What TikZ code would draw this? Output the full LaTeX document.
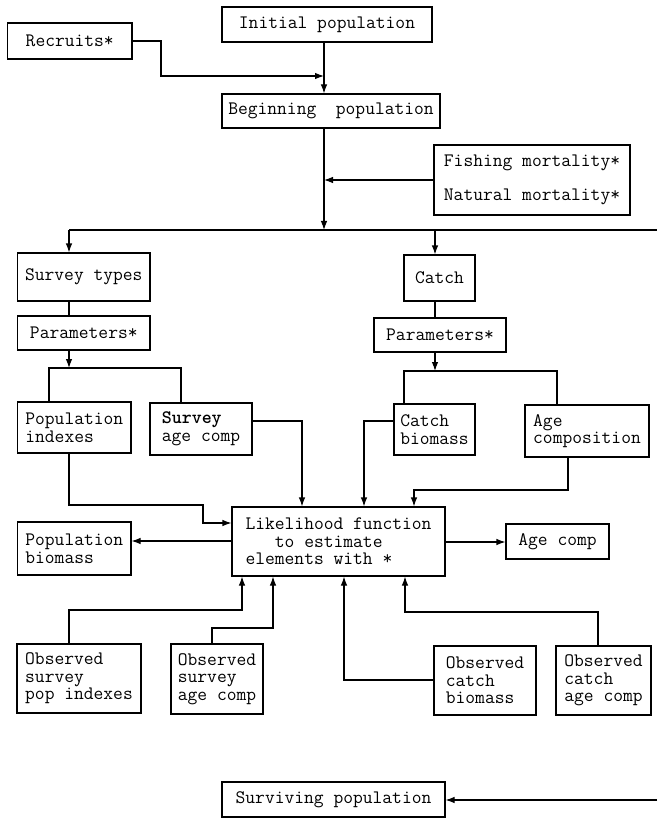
\documentclass[tikz,border=0pt]{standalone}
\usepackage{fontspec}
\usetikzlibrary{arrows.meta,calc}
\begin{document}
\begin{tikzpicture}[x=1pt,y=-1pt,
  box/.style={draw,line width=1.1pt,rectangle,inner sep=0pt,align=left,
    font=\ttfamily\fontsize{19}{17.5}\selectfont},
  con/.style={line width=1.1pt},
  arr/.style={con,-{Latex[length=9pt,width=6.5pt]}}]
\useasboundingbox (0,0) rectangle (657,818);
% boxes
\node[box,minimum width=210pt,minimum height=35pt] (init) at (327,24.5) {Initial population};
\node[box,minimum width=124.5pt,minimum height=36pt] (recruits) at (69.75,41) {Recruits*};
\node[box,minimum width=218pt,minimum height=34pt] (begin) at (331,111) {Beginning\ \ population};
\node[box,minimum width=196pt,minimum height=70pt] (mort) at (532,180) {Fishing mortality*\\[17pt]Natural mortality*};
\node[box,minimum width=132.4pt,minimum height=48pt] (survey) at (83.8,277) {Survey types};
\node[box,minimum width=71pt,minimum height=46pt] (catch) at (439.5,278) {Catch};
\node[box,minimum width=132.4pt,minimum height=34pt] (parL) at (83.8,333) {Parameters*};
\node[box,minimum width=132pt,minimum height=34pt] (parR) at (440,335) {Parameters*};
\node[box,minimum width=113.4pt,minimum height=51pt] (popidx) at (74.3,427.5) {Population\\indexes};
\node[box,minimum width=102pt,minimum height=52pt] (sage) at (201,429) {\textbf{Survey}\\age comp};
\node[box,minimum width=81pt,minimum height=51pt] (cbio) at (434.5,429.5) {Catch\\biomass};
\node[box,minimum width=124pt,minimum height=52pt] (agecomp) at (587,431) {Age\\composition};
\node[box,minimum width=213pt,minimum height=69pt] (like) at (338.5,541.5) {Likelihood function\\\phantom{Lik}to estimate\\elements with *};
\node[box,minimum width=113.4pt,minimum height=53pt] (popbio) at (74.3,548.5) {Population\\biomass};
\node[box,minimum width=103pt,minimum height=35pt] (agec) at (557.5,541.5) {Age comp};
\node[box,minimum width=124pt,minimum height=69pt] (obs1) at (79,678.5) {Observed\\survey\\pop indexes};
\node[box,minimum width=92pt,minimum height=70pt] (obs2) at (217,679) {Observed\\survey\\age comp};
\node[box,minimum width=102pt,minimum height=69pt] (obs3) at (485,680.5) {Observed\\catch\\biomass};
\node[box,minimum width=95pt,minimum height=69pt] (obs4) at (603.5,680.5) {Observed\\catch\\age comp};
\node[box,minimum width=223pt,minimum height=35pt] (surv) at (333.5,799.5) {Surviving population};
% helper coordinates
\coordinate (vx) at (324,0);
\coordinate (r2) at (161,76);
\coordinate (busL) at (69,230);
\coordinate (busR) at (657,230);
\coordinate (cx) at (435,0);
\coordinate (brL) at (69,368);
\coordinate (brL1) at (49,368);
\coordinate (brL2) at (181,368);
\coordinate (brR) at (435,371);
\coordinate (brR1) at (404,371);
\coordinate (brR2) at (557,371);
\coordinate (p1) at (69,505);
\coordinate (p2) at (203,523);
\coordinate (s1) at (302,421);
\coordinate (c1) at (364,421);
\coordinate (a1) at (568,490);
\coordinate (a2) at (414,490);
\coordinate (lb) at (0,541);
\coordinate (la) at (0,542);
\coordinate (o1a) at (69,610);
\coordinate (o1b) at (242,610);
\coordinate (o2a) at (212,628);
\coordinate (o2b) at (273,628);
\coordinate (o3) at (344,680);
\coordinate (o4a) at (598,612);
\coordinate (o4b) at (405,612);
\coordinate (sv) at (657,800);
% connectors
\draw[arr] (init.south -| vx) -- (begin.north -| vx);
\draw[arr] (recruits.east) -| (r2) -- (r2 -| vx);
\draw[arr] (begin.south -| vx) -- (busL -| vx);
\draw[arr] (mort.west) -- (mort.west -| vx);
\draw[con] (busL) -- (busR);
\draw[arr] (busL) -- (survey.north -| busL);
\draw[arr] (busL -| cx) -- (catch.north -| cx);
\draw[con] (survey.south -| busL) -- (parL.north -| busL);
\draw[arr] (parL.south -| brL) -- (brL);
\draw[con] (popidx.north -| brL1) |- (brL2) -- (sage.north -| brL2);
\draw[con] (catch.south -| cx) -- (parR.north -| cx);
\draw[arr] (parR.south -| cx) -- (brR);
\draw[con] (cbio.north -| brR1) |- (brR2) -- (agecomp.north -| brR2);
\draw[arr] (popidx.south -| p1) -- (p1) -| (p2) -- (p2 -| like.west);
\draw[arr] (sage.east |- s1) -| (like.north -| s1);
\draw[arr] (cbio.west |- c1) -| (like.north -| c1);
\draw[arr] (agecomp.south -| a1) -- (a1) -- (a2) -- (like.north -| a2);
\draw[arr] (like.west |- lb) -- (popbio.east |- lb);
\draw[arr] (like.east |- la) -- (agec.west |- la);
\draw[arr] (obs1.north -| o1a) -- (o1a) -- (o1b) -- (like.south -| o1b);
\draw[arr] (obs2.north -| o2a) -- (o2a) -- (o2b) -- (like.south -| o2b);
\draw[arr] (obs3.west |- o3) -| (like.south -| o3);
\draw[arr] (obs4.north -| o4a) -- (o4a) -- (o4b) -- (like.south -| o4b);
\draw[arr] (sv) -- (surv.east |- sv);
\end{tikzpicture}
\end{document}
